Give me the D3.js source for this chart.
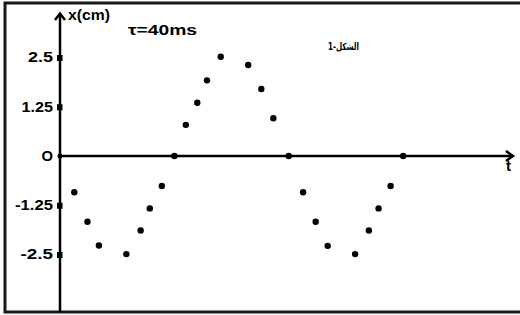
<!DOCTYPE html>
<html>
<head>
<meta charset="utf-8">
<script src="https://cdn.jsdelivr.net/npm/d3@7"></script>
<style>
  body { margin: 0; background: #fff; }
  text { font-family: "Liberation Sans", Arial, sans-serif; font-weight: bold; fill: #000; }
</style>
</head>
<body>
<svg width="520" height="315"></svg>
<script>
(function () {

  // time in ms, elongation in cm
  const times = [0, 2.5, 4.8, 6.8, 11.6, 14.1, 15.7, 17.8, 20, 22, 24, 25.7, 28.1,
    32.9, 35.2, 37.3, 40, 42.5, 44.7, 46.8, 51.6, 54, 55.7, 57.8, 60];
  const elong = [0, -0.92, -1.67, -2.27, -2.49, -1.89, -1.33, -0.76, 0, 0.79, 1.35, 1.92, 2.52,
    2.31, 1.70, 0.96, 0, -0.92, -1.67, -2.28, -2.49, -1.89, -1.33, -0.76, 0];
  const yTicks = [2.5, 1.25, 0, -1.25, -2.5];
  const yTickLabels = ["2.5", "1.25", "O", "-1.25", "-2.5"];

  // the original glyphs are drawn a bit wide, so stretch labels to the measured width
  const labelWidth = { "2.5": 25, "1.25": 31.5, "O": 11.5, "-1.25": 38, "-2.5": 32.5 };

  const svg = d3.select("svg");

  // frame (no right edge visible)
  svg.append("rect")
    .attr("x", 5).attr("y", 3)
    .attr("width", 540).attr("height", 309)
    .attr("fill", "none").attr("stroke", "#1a1a1a").attr("stroke-width", 3);

  const x = d3.scaleLinear().domain([0, 79.2]).range([60, 513]);
  const y = d3.scaleLinear().domain([-2.5, 2.5]).range([254.5, 57.5]);

  // y axis: square ticks and labels
  const yAxis = d3.axisLeft(y)
    .tickValues(yTicks)
    .tickSize(0)
    .tickPadding(7)
    .tickFormat((d, i) => yTickLabels[i]);

  const gy = svg.append("g")
    .attr("transform", `translate(${x(0)},0)`)
    .call(yAxis);
  gy.select(".domain").remove();
  gy.selectAll(".tick text")
    .attr("font-size", 14)
    .attr("font-family", "Liberation Sans, Arial, sans-serif")
    .attr("font-weight", "bold")
    .attr("textLength", (d, i) => labelWidth[yTickLabels[i]])
    .attr("lengthAdjust", "spacingAndGlyphs");
  gy.selectAll(".tick")
    .filter(d => d !== 0)
    .append("rect")
    .attr("x", -3).attr("y", -3)
    .attr("width", 5.5).attr("height", 6)
    .attr("fill", "#000");

  svg.append("line")
    .attr("x1", x(0)).attr("x2", x(0))
    .attr("y1", 312).attr("y2", 14)
    .attr("stroke", "#000").attr("stroke-width", 2.5);
  svg.append("path")
    .attr("d", `M${x(0) - 5},${20} L${x(0)},${13.5} L${x(0) + 5},${20}`)
    .attr("fill", "none").attr("stroke", "#000").attr("stroke-width", 2.5);

  // x axis with arrow
  svg.append("line")
    .attr("x1", x(0)).attr("x2", x(79.2))
    .attr("y1", y(0)).attr("y2", y(0))
    .attr("stroke", "#000").attr("stroke-width", 2.5);
  svg.append("path")
    .attr("d", `M${x(79.2) - 7},${y(0) - 5} L${x(79.2)},${y(0)} L${x(79.2) - 7},${y(0) + 5}`)
    .attr("fill", "none").attr("stroke", "#000").attr("stroke-width", 2.5);

  // labels
  svg.append("text").attr("x", 68).attr("y", 20).attr("font-size", 14)
    .attr("textLength", 42).attr("lengthAdjust", "spacingAndGlyphs").text("x(cm)");
  svg.append("text").attr("x", 506).attr("y", 171).attr("font-size", 15).text("t");
  svg.append("text").attr("x", 128).attr("y", 35).attr("font-size", 15)
    .attr("textLength", 69).attr("lengthAdjust", "spacingAndGlyphs").text("τ=40ms");
  svg.append("text").attr("x", 328).attr("y", 50)
    .attr("font-size", 10)
    .attr("textLength", 31).attr("lengthAdjust", "spacingAndGlyphs")
    .style("font-family", "'DejaVu Sans', sans-serif")
    .text("1-الشكل");

  // measured points
  svg.append("g")
    .selectAll("circle")
    .data(times)
    .enter()
    .append("circle")
    .attr("cx", d => x(d))
    .attr("cy", (d, i) => y(elong[i]))
    .attr("r", (d, i) => i === 0 ? 2.5 : 3.2)
    .attr("fill", "#000");
})();
</script>
</body>
</html>
